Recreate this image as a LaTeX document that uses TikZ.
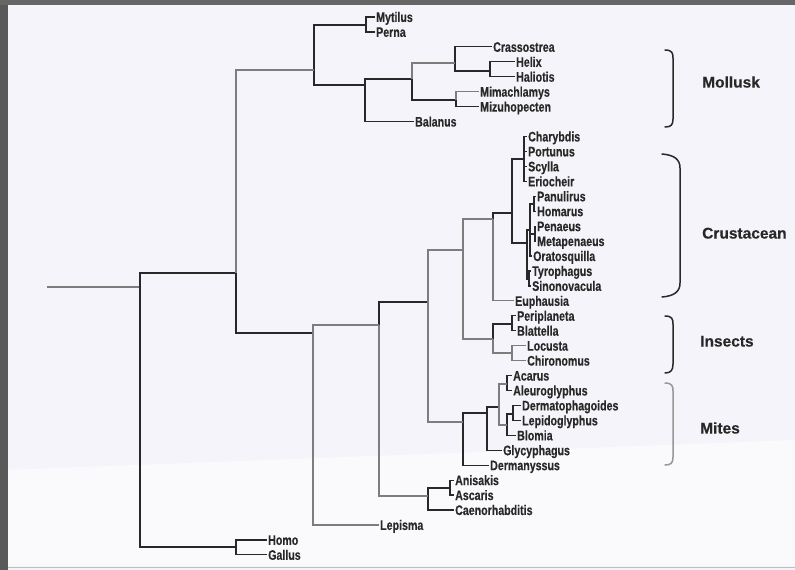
\documentclass[tikz,border=0pt]{standalone}
\usepackage{fontspec}
\setmainfont{Liberation Sans}
\newfontfamily\leaffont{Liberation Sans}[FakeStretch=0.77, FakeBold=0.3]
\newfontfamily\grpfont{Liberation Sans}[FakeBold=0.3]
\definecolor{bgc}{RGB}{244,244,250}
\definecolor{bgl}{RGB}{250,250,252}
\definecolor{inkc}{RGB}{40,40,40}
\definecolor{grayc}{RGB}{125,125,125}
\tikzset{
  leaf/.style={anchor=west, inner xsep=1.5pt, inner ysep=0pt, text=inkc,
    font=\leaffont\bfseries\fontsize{13.8}{13.8}\selectfont, text height=9.9pt, text depth=0pt},
  grp/.style={anchor=west, inner sep=0pt, text=inkc,
    font=\grpfont\bfseries\fontsize{15.5}{15.5}\selectfont, text height=11.1pt, text depth=0pt},
  br/.style={line width=1.2pt, draw=inkc},
  brg/.style={line width=1.2pt, draw=grayc},
  brace/.style={line width=1.5pt, draw=inkc, line cap=round},
}
\begin{document}
\begin{tikzpicture}[x=1pt,y=-1pt]
\useasboundingbox (0,0) rectangle (795,570);
\fill[bgc] (0,0) rectangle (795,570);
\fill[bgl] (0,470) -- (795,440) -- (795,566) -- (0,566) -- cycle;
\fill[black!65] (0,0) rectangle (8,570);
\fill[black!60] (0,0) rectangle (795,5);
\draw[black!25, line width=0.8pt] (8,567) -- (795,567);

% leaves
\foreach \n/\x/\i in {Mytilus/376/0, Perna/376/1, Crassostrea/493/2, Helix/516/3,
  Haliotis/516/4, Mimachlamys/480/5, Mizuhopecten/480/6, Balanus/415/7,
  Charybdis/528/8, Portunus/528/9, Scylla/528/10, Eriocheir/528/11,
  Panulirus/537/12, Homarus/537/13, Penaeus/537/14, Metapenaeus/537/15,
  Oratosquilla/533/16, Tyrophagus/532/17, Sinonovacula/532/18, Euphausia/515/19,
  Periplaneta/517/20, Blattella/517/21, Locusta/527/22, Chironomus/527/23,
  Acarus/513/24, Aleuroglyphus/513/25, Dermatophagoides/522/26, Lepidoglyphus/522/27,
  Blomia/517/28, Glycyphagus/503/29, Dermanyssus/490/30, Anisakis/455/31,
  Ascaris/455/32, Caenorhabditis/455/33, Lepisma/380/34, Homo/268/35, Gallus/268/36}
  \node[leaf] (\n) at ({\x-1.5},{17+14.94*\i}) {\n};

% internal nodes
\foreach \n/\x/\y in {rs/47/287, R/140/287, HG/236/547, BIG/236/273, MOL/314/70,
  MP/366/25, MOL2/365/85, M3/412/79, M4/455/63, HH/490/71, MM/456/100,
  ART/313/333, A379/379/325, NEM/428/496, AA/450/488, A428/428/302, A463/463/250,
  E493/493/219, C512/512/213, CRAB/524/159, LOW/527/243, M530/530/230,
  PH/534/204, PM/535/234, TS/529/279, INS/493/339, PB/512/324, LC/512/353,
  MITE/463/422, G487/487/413, G499/499/407, AcAl/507/384, DLB/507/425, DL/513/414}
  \coordinate (\n) at (\x,\y);

\draw[brg] (rs) -- (R);
\foreach \p/\c in {R/BIG, R/HG, HG/Homo, HG/Gallus, MOL/MP, MOL/MOL2,
  MP/Mytilus, MP/Perna, MOL2/M3, MOL2/Balanus, M3/MM, M4/Crassostrea, M4/HH,
  HH/Helix, HH/Haliotis, MM/Mizuhopecten, BIG/ART, A379/A428, NEM/AA,
  NEM/Caenorhabditis, AA/Anisakis, AA/Ascaris, E493/C512, C512/CRAB, C512/LOW,
  CRAB/Charybdis, CRAB/Portunus, CRAB/Scylla, CRAB/Eriocheir, LOW/M530, LOW/TS,
  M530/PH, M530/PM, M530/Oratosquilla, PH/Panulirus, PH/Homarus, PM/Penaeus,
  PM/Metapenaeus, TS/Tyrophagus, TS/Sinonovacula, INS/PB, PB/Periplaneta,
  PB/Blattella, MITE/G487, MITE/Dermanyssus, G487/G499, G487/Glycyphagus,
  AcAl/Acarus, AcAl/Aleuroglyphus, DLB/DL, DLB/Blomia, DL/Dermatophagoides,
  DL/Lepidoglyphus}
  \draw[br] (\p) |- (\c);
\foreach \p/\c in {BIG/MOL, M3/M4, MM/Mimachlamys, ART/A379, ART/Lepisma,
  A379/NEM, A428/A463, A428/MITE, A463/E493, A463/INS, E493/Euphausia,
  INS/LC, LC/Locusta, LC/Chironomus, G499/AcAl, G499/DLB}
  \draw[brg] (\p) |- (\c);

% group brackets
\draw[brace] (665,50) .. controls (672,50) and (673,53) .. (673,58) -- (673,119)
  .. controls (673,125) and (671,127) .. (665,127);
\draw[brace] (662,154) .. controls (675,155) and (680,160) .. (680,168) -- (680,283)
  .. controls (680,291) and (675,296) .. (662,297);
\draw[brace] (665,316) .. controls (672,316) and (673,319) .. (673,324) -- (673,364)
  .. controls (673,370) and (671,373) .. (665,373);
\draw[brace, draw=grayc!80] (665,383) .. controls (672,383) and (673,386) .. (673,391) -- (673,457)
  .. controls (673,463) and (671,465) .. (665,465);

\node[grp] (mollusk) at (702,82) {Mollusk};
\node[grp] (crustacean) at (702,233) {Crustacean};
\node[grp] (insects) at (700,341) {Insects};
\node[grp] (mites) at (700,428) {Mites};
\end{tikzpicture}
\end{document}
